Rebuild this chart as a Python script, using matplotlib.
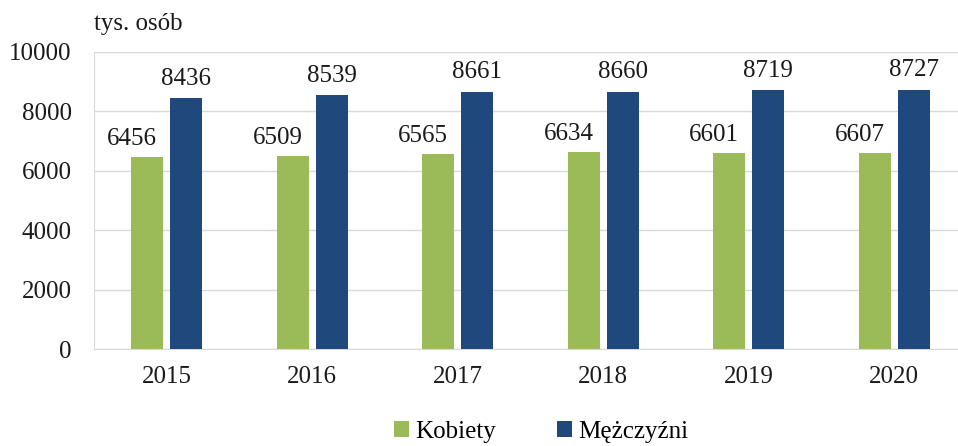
import matplotlib
matplotlib.use("Agg")
import matplotlib.pyplot as plt
import numpy as np

years = ["2015", "2016", "2017", "2018", "2019", "2020"]
kobiety = [6456, 6509, 6565, 6634, 6601, 6607]
mezczyzni = [8436, 8539, 8661, 8660, 8719, 8727]
series_names = ["Kobiety", "Mężczyźni"]
yticks = [0, 2000, 4000, 6000, 8000, 10000]

plt.rcParams['font.family'] = ['Liberation Serif', 'DejaVu Serif']
FS = 18

fig = plt.figure(figsize=(9.58, 4.46), dpi=100)
ax = fig.add_axes([94/958, 97/446, 873/958, 297/446])

x = np.arange(len(years))
w = 0.22
off = 0.133
green = "#9BBB59"
blue = "#1F497D"
b1 = ax.bar(x - off, kobiety, w, color=green, label=series_names[0], zorder=3)
b2 = ax.bar(x + off, mezczyzni, w, color=blue, label=series_names[1], zorder=3)

for bars, vals, dx, dy in ((b1, kobiety, -11, 5), (b2, mezczyzni, 0, 6)):
    for r, v in zip(bars, vals):
        ax.annotate(str(v), (r.get_x() + r.get_width() / 2, v), xytext=(dx, dy),
                    textcoords="offset points", ha="center", va="bottom",
                    fontsize=FS, color="#1a1a1a")

ax.set_xlim(-0.5, len(years) - 0.5)
ax.set_ylim(0, 10000)
ax.set_yticks(yticks)
ax.set_yticklabels([str(t) for t in yticks], fontsize=FS)
ax.set_xticks(x)
ax.set_xticklabels(years, fontsize=FS)
ax.tick_params(axis="y", length=0, pad=16, colors="#1a1a1a")
ax.tick_params(axis="x", length=0, pad=12, colors="#1a1a1a")
ax.grid(axis="y", color="#d9d9d9", linewidth=1, zorder=0)
for s in ["top", "right"]:
    ax.spines[s].set_visible(False)
ax.spines["left"].set_color("#d9d9d9")
ax.spines["bottom"].set_color("#d9d9d9")

fig.text(94/958, 1 - 24/446, "tys. osób", fontsize=FS, ha="left", va="center", color="#1a1a1a")

fig.legend(handles=[b1, b2], loc="center", bbox_to_anchor=(0.565, 1 - 432/446), ncol=2,
           frameon=False, fontsize=FS, handlelength=0.6, handleheight=0.6,
           handletextpad=0.25, columnspacing=2.45)

fig.savefig("out.png", dpi=100)
